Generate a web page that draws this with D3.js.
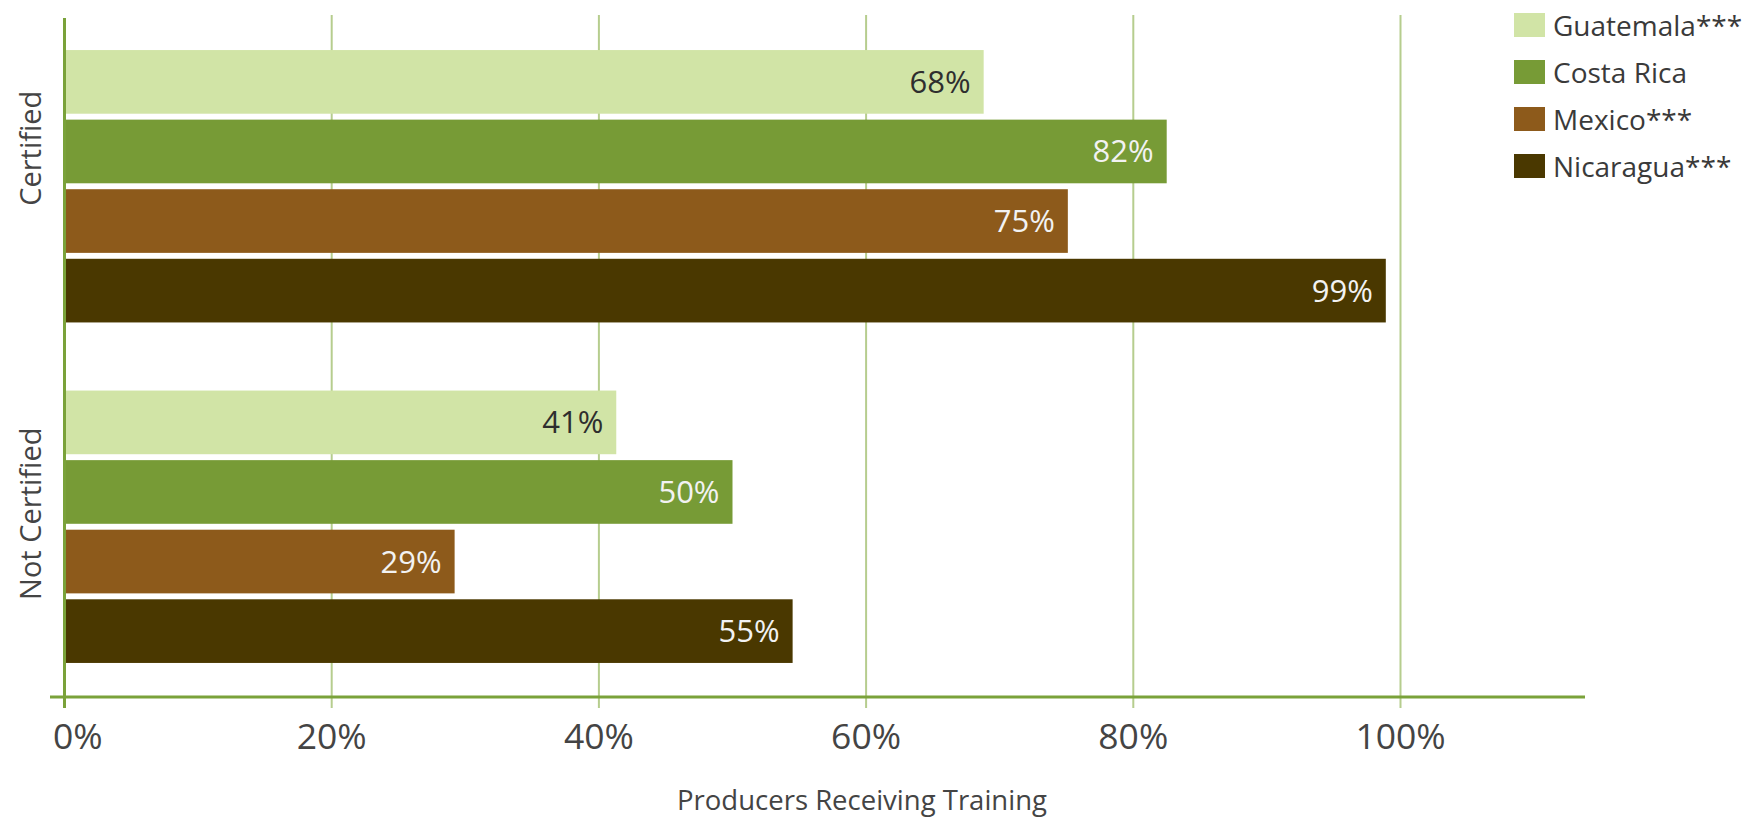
<!DOCTYPE html>
<html>
<head>
<meta charset="utf-8">
<script src="https://cdn.jsdelivr.net/npm/d3@7"></script>
<style>
  html, body { margin: 0; padding: 0; background: #ffffff; }
  svg { display: block; font-family: "Open Sans", sans-serif; }
</style>
</head>
<body>
<svg id="chart" width="1758" height="818"></svg>
<script>
// ---- data ----
const groups = ["Certified", "Not Certified"];
const countries = ["Guatemala***", "Costa Rica", "Mexico***", "Nicaragua***"];
const certifiedValues = [68.8, 82.5, 75.1, 98.9];
const notCertifiedValues = [41.3, 50.0, 29.2, 54.5];
const certifiedLabels = ["68%", "82%", "75%", "99%"];
const notCertifiedLabels = ["41%", "50%", "29%", "55%"];
const xTicks = [0, 20, 40, 60, 80, 100];
const xTitle = "Producers Receiving Training";

// ---- styles ----
const colors = ["#d1e4a6", "#779b36", "#8d5a1b", "#4a3800"];
const labelColors = ["#2e2e2e", "#f2f2f2", "#f2f2f2", "#f2f2f2"];
const groupLabelOffsets = [-38, -13];

const svg = d3.select("#chart");
const plotTop = 16, plotBottom = 697;
const x = d3.scaleLinear().domain([0, 100]).range([64.5, 1400.5]);
const axisRight = 1585;
const minLabelLeft = 53;

const y0 = d3.scaleBand().domain(groups).range([plotTop, plotBottom])
  .paddingInner(0.2).paddingOuter(0.1);
const y1 = d3.scaleBand().domain(countries).range([0, y0.bandwidth()])
  .paddingInner(0.085).paddingOuter(0);

const rows = [];
groups.forEach((g, gi) => {
  const vals = gi === 0 ? certifiedValues : notCertifiedValues;
  const labs = gi === 0 ? certifiedLabels : notCertifiedLabels;
  countries.forEach((c, ci) => rows.push({g, c, ci, v: vals[ci], label: labs[ci]}));
});

// gridlines
svg.append("g").selectAll("line").data(xTicks.filter(t => t > 0)).join("line")
  .attr("x1", d => x(d)).attr("x2", d => x(d))
  .attr("y1", plotTop - 1).attr("y2", plotBottom + 11)
  .attr("stroke", "#b6cd8e").attr("stroke-width", 2);

// bars
svg.append("g").selectAll("rect").data(rows).join("rect")
  .attr("x", x(0))
  .attr("y", d => y0(d.g) + y1(d.c))
  .attr("width", d => x(d.v) - x(0))
  .attr("height", y1.bandwidth())
  .attr("fill", d => colors[d.ci]);

// value labels
svg.append("g").selectAll("text").data(rows).join("text")
  .attr("x", d => x(d.v) - 13)
  .attr("y", d => y0(d.g) + y1(d.c) + y1.bandwidth() / 2 + 11)
  .attr("text-anchor", "end")
  .attr("font-size", 31)
  .attr("fill", d => labelColors[d.ci])
  .text(d => d.label);

// axes lines
svg.append("line")
  .attr("x1", x(0)).attr("x2", x(0))
  .attr("y1", plotTop + 2).attr("y2", plotBottom + 11)
  .attr("stroke", "#7aa23a").attr("stroke-width", 3);
svg.append("line")
  .attr("x1", 50).attr("x2", axisRight)
  .attr("y1", plotBottom).attr("y2", plotBottom)
  .attr("stroke", "#7aa23a").attr("stroke-width", 3);

// x tick labels (justified so the first one stays inside the chart)
const tickText = svg.append("g").selectAll("text").data(xTicks).join("text")
  .attr("x", d => x(d))
  .attr("y", 749)
  .attr("text-anchor", "middle")
  .attr("font-size", 35.5)
  .attr("fill", "#444")
  .text(d => d + "%");
tickText.each(function(d) {
  const w = this.getComputedTextLength();
  if (x(d) - w / 2 < minLabelLeft) d3.select(this).attr("x", minLabelLeft + w / 2);
});

// x title
svg.append("text")
  .attr("x", 862).attr("y", 810)
  .attr("text-anchor", "middle")
  .attr("font-size", 27.5)
  .attr("fill", "#444")
  .text(xTitle);

// group labels
svg.append("g").selectAll("text").data(groups).join("text")
  .attr("transform", (d, i) => `translate(41,${y0(d) + y0.bandwidth() / 2 + groupLabelOffsets[i]}) rotate(-90)`)
  .attr("text-anchor", "middle")
  .attr("font-size", 29)
  .attr("fill", "#444")
  .text(d => d);

// legend
const legend = svg.append("g").selectAll("g").data(countries).join("g")
  .attr("transform", (d, i) => `translate(1514,${25 + i * 47})`);
legend.append("rect")
  .attr("x", 0).attr("y", -12).attr("width", 31).attr("height", 24)
  .attr("fill", (d, i) => colors[i]);
legend.append("text")
  .attr("x", 39).attr("y", 11)
  .attr("font-size", 28)
  .attr("fill", "#3a3a3a")
  .text(d => d);
</script>
</body>
</html>
